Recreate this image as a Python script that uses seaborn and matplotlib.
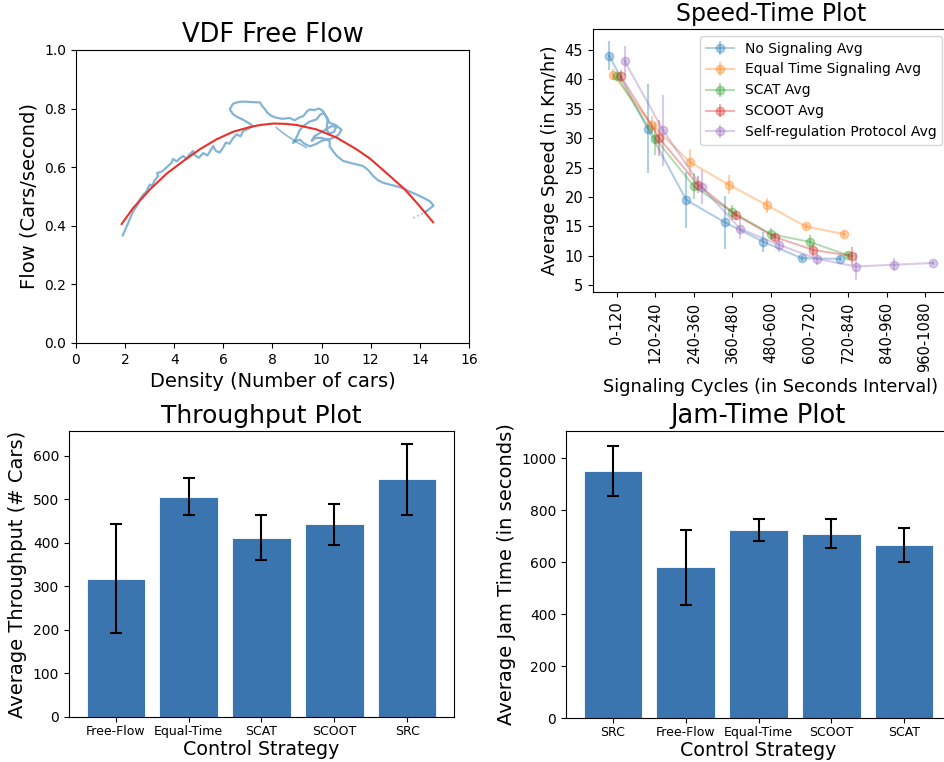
import numpy as np
import pandas as pd
import seaborn as sns
import matplotlib
matplotlib.use("Agg")
import matplotlib.pyplot as plt

# ---- VDF free flow data ----
trail_density = [1.90, 2.05, 2.20, 2.33, 2.50, 2.60, 2.74, 2.85, 3.01, 3.10, 3.20, 3.35, 3.30, 3.50,
                 3.70, 3.89, 3.95, 4.10, 4.25, 4.37, 4.50, 4.60, 4.77, 4.85, 5.00, 5.18, 5.35, 5.50,
                 5.59, 5.70, 5.85, 6.00, 6.10, 6.25, 6.40, 6.55, 6.70, 6.81, 7.00, 7.21,
                 7.05, 6.80, 6.55, 6.39, 6.26, 6.40, 6.60, 6.81, 7.20, 7.49, 7.55, 7.69, 7.80, 7.96,
                 8.10, 8.40, 8.70, 8.90, 9.10, 9.25, 9.40, 9.52, 9.70, 9.90, 10.06, 10.20, 10.33,
                 10.55, 10.81, 10.70, 10.60, 10.40, 10.20, 10.00, 9.80, 9.52, 9.30, 9.11, 8.95, 8.84,
                 9.00, 9.10, 9.25, 9.50, 9.79, 9.95, 10.10, 10.25, 10.20, 10.30, 10.50, 10.60, 10.40,
                 10.00, 9.70, 9.60, 9.75, 10.00, 10.33,
                 10.33, 10.60, 10.88, 11.30, 11.69, 11.90, 12.10, 12.30, 12.50, 12.90, 13.25, 13.55,
                 13.86, 14.15, 14.40, 14.56, 14.27]
trail_flow = [0.367, 0.395, 0.425, 0.450, 0.470, 0.490, 0.507, 0.515, 0.541, 0.535, 0.555, 0.570, 0.580,
              0.585, 0.600, 0.615, 0.628, 0.620, 0.632, 0.638, 0.628, 0.642, 0.655, 0.640, 0.632, 0.648,
              0.640, 0.660, 0.672, 0.655, 0.650, 0.668, 0.684, 0.680, 0.700, 0.712, 0.705, 0.724, 0.730,
              0.740,
              0.750, 0.762, 0.772, 0.781, 0.798, 0.817, 0.822, 0.824, 0.822, 0.821, 0.812, 0.798, 0.785,
              0.775, 0.770, 0.765, 0.768, 0.760, 0.770, 0.774, 0.790, 0.797, 0.795, 0.800, 0.791, 0.770,
              0.751, 0.745, 0.728, 0.712, 0.705, 0.698, 0.694, 0.690, 0.680, 0.671, 0.680, 0.694, 0.690,
              0.683, 0.705, 0.725, 0.740, 0.755, 0.763, 0.780, 0.785, 0.765, 0.728, 0.715, 0.720, 0.738,
              0.740, 0.720, 0.705, 0.690, 0.700, 0.700, 0.690,
              0.670, 0.640, 0.621, 0.612, 0.604, 0.590, 0.570, 0.555, 0.547, 0.538, 0.530, 0.518,
              0.507, 0.495, 0.484, 0.469, 0.450]
tail_density = [14.27, 14.00, 13.80, 13.66]
tail_flow = [0.450, 0.437, 0.430, 0.424]
branch_density = [8.16, 8.50, 8.90, 9.38]
branch_flow = [0.735, 0.712, 0.690, 0.667]

fit_density = [1.86, 2.33, 3.01, 3.69, 4.37, 5.04, 5.72, 6.40, 7.08, 7.50, 8.03, 8.50, 8.98, 9.79,
               10.61, 11.42, 11.96, 12.71, 13.39, 13.93, 14.54]
fit_flow = [0.406, 0.461, 0.524, 0.578, 0.621, 0.661, 0.695, 0.721, 0.737, 0.744, 0.749, 0.748, 0.744,
            0.729, 0.701, 0.661, 0.630, 0.575, 0.524, 0.473, 0.412]

# ---- Speed-time data ----
cycle_labels = ["0-120", "120-240", "240-360", "360-480", "480-600", "600-720", "720-840",
                "840-960", "960-1080"]
speed_names = ["No Signaling Avg", "Equal Time Signaling Avg", "SCAT Avg", "SCOOT Avg",
               "Self-regulation Protocol Avg"]
speed_means = [
    [44.0, 31.6, 19.5, 15.7, 12.4, 9.6, 9.5],
    [40.8, 32.3, 25.9, 22.1, 18.6, 15.0, 13.7],
    [40.5, 29.9, 21.8, 17.4, 13.7, 12.4, 10.1],
    [40.5, 30.0, 22.1, 16.9, 13.2, 11.0, 10.0],
    [43.1, 31.3, 21.7, 14.6, 11.9, 9.5, 8.2, 8.5, 8.8],
]
speed_errs = [
    [2.5, 7.6, 4.8, 4.5, 1.7, 0.4, 0.4],
    [1.0, 1.5, 2.2, 1.6, 1.3, 0.5, 0.5],
    [0.6, 2.7, 2.2, 1.3, 1.0, 1.2, 0.5],
    [1.0, 3.0, 1.5, 0.8, 0.6, 1.0, 1.5],
    [2.5, 6.0, 2.9, 1.8, 1.3, 1.0, 2.3, 1.1, 0.3],
]

# ---- Throughput / jam time ----
thr_strategy = ["Free-Flow", "Equal-Time", "SCAT", "SCOOT", "SRC"]
thr_mean = [318, 506, 412, 443, 546]
thr_err = [126, 43, 52, 47, 81]

jam_strategy = ["SRC", "Free-Flow", "Equal-Time", "SCOOT", "SCAT"]
jam_mean = [952, 580, 724, 710, 666]
jam_err = [97, 143, 44, 56, 65]

bar_color = "#3b75af"

fig = plt.figure(figsize=(9.44, 7.62), dpi=100)

# VDF free flow
ax1 = fig.add_axes([0.0805, 0.5499, 0.4163, 0.3845])
sns.lineplot(x=trail_density, y=trail_flow, sort=False, estimator=None, ax=ax1,
             color="#1f77b4", alpha=0.55, lw=1.6)
sns.lineplot(x=branch_density, y=branch_flow, sort=False, estimator=None, ax=ax1,
             color="#1f77b4", alpha=0.5, lw=1.2)
ax1.plot(tail_density, tail_flow, color="#1f77b4", alpha=0.5, lw=1.2, ls=":")
ax1.plot(fit_density, fit_flow, color="#e8312a", lw=1.5)
ax1.set_xlim(0, 16)
ax1.set_ylim(0, 1)
ax1.set_title("VDF Free Flow", fontsize=18.5)
ax1.set_xlabel("Density (Number of cars)", fontsize=14)
ax1.set_ylabel("Flow (Cars/second)", fontsize=14)
ax1.tick_params(labelsize=10)

# Speed-time
ax2 = fig.add_axes([0.6282, 0.6168, 0.3771, 0.3451])
dodge = [-0.2, -0.1, 0.0, 0.1, 0.2]
palette = sns.color_palette("tab10", 5)
for i, name in enumerate(speed_names):
    xs = np.arange(len(speed_means[i])) + dodge[i]
    ax2.errorbar(xs, speed_means[i], yerr=speed_errs[i], marker="o", ms=6,
                 color=palette[i], alpha=0.35, label=name)
ax2.set_xticks(range(len(cycle_labels)))
ax2.set_xticklabels(cycle_labels, rotation=90)
ax2.set_yticks([5, 10, 15, 20, 25, 30, 35, 40, 45])
ax2.set_title("Speed-Time Plot", fontsize=17)
ax2.set_xlabel("Signaling Cycles (in Seconds Interval)", fontsize=12.8)
ax2.set_ylabel("Average Speed (in Km/hr)", fontsize=12.8)
ax2.tick_params(labelsize=10.5)
ax2.legend(loc="upper right", fontsize=10)

# Throughput
ax3 = fig.add_axes([0.0731, 0.0591, 0.4078, 0.3753])
thr_df = pd.DataFrame({"strategy": thr_strategy, "mean": thr_mean, "err": thr_err})
sns.barplot(data=thr_df, x="strategy", y="mean", color=bar_color, saturation=1,
            errorbar=None, width=0.8, edgecolor="white", linewidth=0.6, ax=ax3)
ax3.errorbar(range(len(thr_strategy)), thr_df["mean"], yerr=thr_df["err"], fmt="none",
             ecolor="black", elinewidth=1.5, capsize=4, capthick=1.5)
ax3.set_xlim(-0.64, 4.64)
ax3.set_ylim(0, 657)
ax3.set_title("Throughput Plot", fontsize=18)
ax3.set_xlabel("Control Strategy", fontsize=13.7, labelpad=1)
ax3.set_ylabel("Average Throughput (# Cars)", fontsize=14)
ax3.tick_params(axis="x", labelsize=9, pad=2.5)
ax3.tick_params(axis="y", labelsize=10)

# Jam time
ax4 = fig.add_axes([0.5996, 0.0577, 0.4078, 0.3766])
jam_df = pd.DataFrame({"strategy": jam_strategy, "mean": jam_mean, "err": jam_err})
sns.barplot(data=jam_df, x="strategy", y="mean", color=bar_color, saturation=1,
            errorbar=None, width=0.8, edgecolor="white", linewidth=0.6, ax=ax4)
ax4.errorbar(range(len(jam_strategy)), jam_df["mean"], yerr=jam_df["err"], fmt="none",
             ecolor="black", elinewidth=1.5, capsize=4, capthick=1.5)
ax4.set_xlim(-0.64, 4.64)
ax4.set_ylim(0, 1105)
ax4.set_title("Jam-Time Plot", fontsize=18.5)
ax4.set_xlabel("Control Strategy", fontsize=13.7, labelpad=1)
ax4.set_ylabel("Average Jam Time (in seconds)", fontsize=14)
ax4.tick_params(axis="x", labelsize=9, pad=2.5)
ax4.tick_params(axis="y", labelsize=10)

fig.savefig("out.png", dpi=100)
